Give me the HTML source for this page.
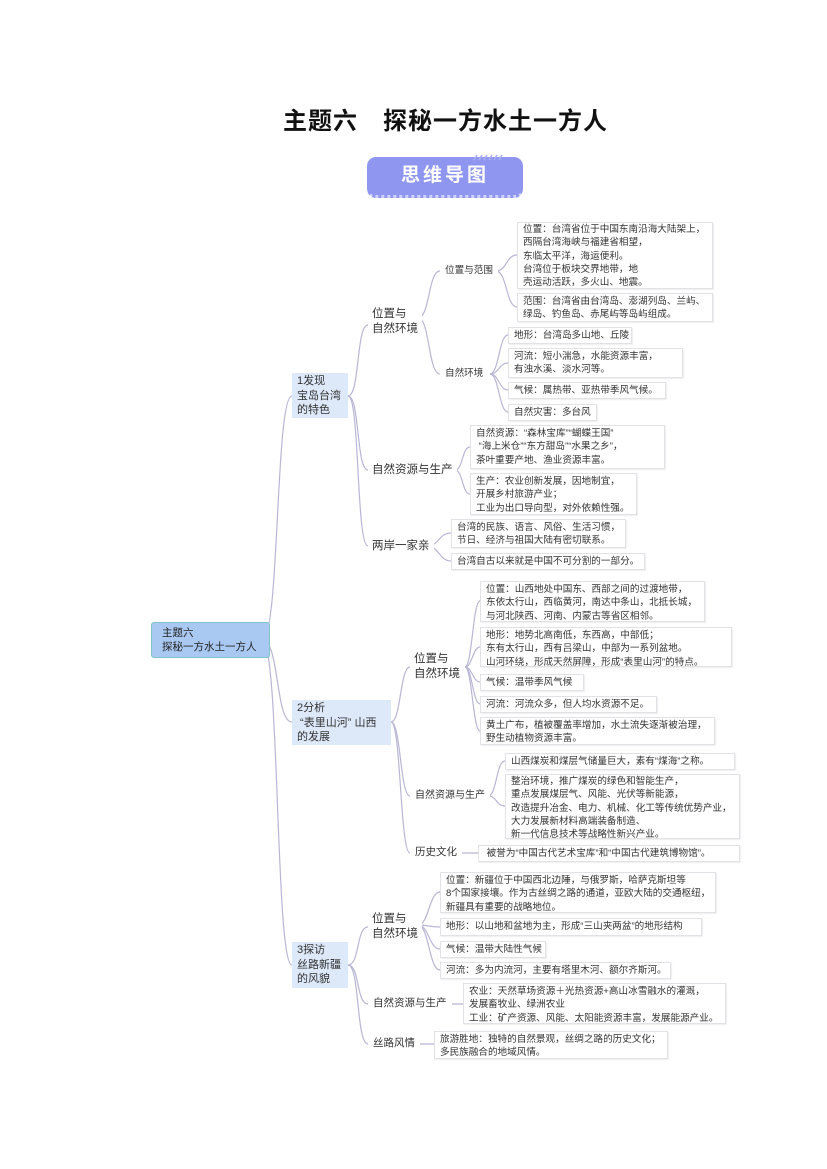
<!DOCTYPE html>
<html><head><meta charset="utf-8">
<style>
body{margin:0;background:#fff;}
#p{position:relative;width:827px;height:1169px;overflow:hidden;font-family:"Liberation Sans","Noto Sans CJK SC",sans-serif;color:#333;}
.t{position:absolute;left:32px;width:827px;top:101px;text-align:center;font-size:24px;letter-spacing:1px;font-weight:bold;color:#111;font-family:"Liberation Sans","Noto Sans CJK SC",sans-serif;}
.n{position:absolute;box-sizing:border-box;font-size:9.6px;line-height:13.3px;padding:1px 5px;white-space:nowrap;background:#fff;}
.lf{border:1px solid #e2e2e6;box-shadow:1px 1px 1px #eee;}
.l2{font-size:11.5px;line-height:15px;padding:2px 4px;}
.l1{background:#dde8f8;font-size:11px;line-height:15px;padding:3px 6px;}
svg{position:absolute;left:0;top:0;}
</style></head><body><div id="p">
<div class="t">主题六　探秘一方水土一方人</div>
<div style="position:absolute;left:367px;top:157px;width:156px;height:41px;border-radius:9px;background:#8f96f0;border-bottom:3px dotted #d0d3fb;box-sizing:border-box;color:#fff;font-weight:bold;font-size:19px;line-height:38px;text-align:center;letter-spacing:3px;">思维导图</div>
<svg width="827" height="1169" stroke="#a7aef5" stroke-width="1.5"><path d="M474 160 l3 -5 M479 160 l3 -5 M484 160 l3 -5 M489 160 l3 -5 M494 160 l3 -5 M499 160 l3 -5"/></svg>

<svg width="827" height="1169" fill="none" stroke="#b8b6d4" stroke-width="1.2">
<path d="M262 640 C280 640 275 396 292 396"/>
<path d="M262 640 C280 640 275 722 292 722"/>
<path d="M262 640 C280 640 275 965 292 965"/>
<path d="M348 396 C360 396 356 325 368 325"/>
<path d="M348 396 C360 396 356 470 368 470"/>
<path d="M348 396 C360 396 356 546 368 546"/>
<path d="M418 318 C430 318 428 271 440 271"/>
<path d="M418 318 C430 318 428 374 440 374"/>
<path d="M496 271 C507 271 506 255 517 255"/>
<path d="M496 271 C507 271 506 307 517 307"/>
<path d="M490 374 C499 374 499 335 508 335"/>
<path d="M490 374 C499 374 499 363 508 363"/>
<path d="M490 374 C499 374 499 390 508 390"/>
<path d="M490 374 C499 374 499 412 508 412"/>
<path d="M455 470 C463 470 462 447 470 447"/>
<path d="M455 470 C463 470 462 494 470 494"/>
<path d="M427 546 C439 546 439 533 451 533"/>
<path d="M427 546 C439 546 439 561 451 561"/>
<path d="M391 722 C401 722 400 667 410 667"/>
<path d="M391 722 C401 722 400 796 410 796"/>
<path d="M391 722 C401 722 400 853 410 853"/>
<path d="M465 667 C472 667 473 601 480 601"/>
<path d="M465 667 C472 667 473 647 480 647"/>
<path d="M465 667 C472 667 473 682 480 682"/>
<path d="M465 667 C472 667 473 704 480 704"/>
<path d="M465 667 C472 667 473 731 480 731"/>
<path d="M488 796 C497 796 496 761 505 761"/>
<path d="M488 796 C497 796 496 806 505 806"/>
<path d="M457 853 L478 853"/>
<path d="M348 965 C360 965 356 927 368 927"/>
<path d="M348 965 C360 965 356 1004 368 1004"/>
<path d="M348 965 C360 965 356 1044 368 1044"/>
<path d="M418 925 C429 925 429 892 440 892"/>
<path d="M418 925 C429 925 429 927 440 927"/>
<path d="M418 925 C429 925 429 949 440 949"/>
<path d="M418 925 C429 925 429 970 440 970"/>
<path d="M443 1004 L463 1004"/>
<path d="M417 1044 L434 1044"/>
</svg>

<div class="n" style="left:151px;top:622px;width:119px;height:36px;background:#a9c8f2;border:1.5px solid #7fc4c8;border-radius:3px;font-size:10.5px;line-height:14px;padding:3px 10px;color:#222;">主题六<br>探秘一方水土一方人</div>

<div class="n l1" style="left:292px;top:373px;width:56px;height:45px;padding:1px 5px;line-height:14.5px;">1发现<br>宝岛台湾<br>的特色</div>
<div class="n l1" style="left:292px;top:700px;width:99px;height:45px;padding:1px 5px;line-height:14.5px;">2分析<br>&nbsp;“表里山河” 山西<br>的发展</div>
<div class="n l1" style="left:292px;top:942px;width:56px;height:46px;padding:1px 5px;line-height:14.5px;">3探访<br>丝路新疆<br>的风貌</div>

<div class="n l2" style="left:368px;top:305px;">位置与<br>自然环境</div>
<div class="n l2" style="left:368px;top:462px;padding:1px 4px;">自然资源与生产</div>
<div class="n l2" style="left:368px;top:538px;padding:1px 4px;">两岸一家亲</div>
<div class="n l2" style="left:410px;top:650px;">位置与<br>自然环境</div>
<div class="n" style="left:410px;top:788px;font-size:10px;">自然资源与生产</div>
<div class="n" style="left:410px;top:845px;font-size:10.5px;">历史文化</div>
<div class="n l2" style="left:368px;top:910px;">位置与<br>自然环境</div>
<div class="n" style="left:368px;top:996px;font-size:10.5px;">自然资源与生产</div>
<div class="n" style="left:368px;top:1036px;font-size:10.5px;">丝路风情</div>
<div class="n" style="left:440px;top:263px;">位置与范围</div>
<div class="n" style="left:440px;top:366px;">自然环境</div>

<div class="n lf" style="left:517px;top:222px;width:196px;height:67px;padding-top:0;">位置：台湾省位于中国东南沿海大陆架上，<br>西隔台湾海峡与福建省相望，<br>东临太平洋，海运便利。<br>台湾位于板块交界地带，地<br>壳运动活跃，多火山、地震。</div>
<div class="n lf" style="left:517px;top:293px;width:196px;height:29px;">范围：台湾省由台湾岛、澎湖列岛、兰屿、<br>绿岛、钓鱼岛、赤尾屿等岛屿组成。</div>
<div class="n lf" style="left:508px;top:327px;width:124px;height:17px;">地形：台湾岛多山地、丘陵</div>
<div class="n lf" style="left:508px;top:348px;width:175px;height:30px;">河流：短小湍急，水能资源丰富，<br>有浊水溪、淡水河等。</div>
<div class="n lf" style="left:508px;top:382px;width:158px;height:17px;">气候：属热带、亚热带季风气候。</div>
<div class="n lf" style="left:508px;top:404px;height:17px;">自然灾害：多台风</div>
<div class="n lf" style="left:470px;top:425px;width:195px;height:44px;">自然资源：“森林宝库”“蝴蝶王国”<br>&nbsp;“海上米仓”“东方甜岛”“水果之乡”，<br>茶叶重要产地、渔业资源丰富。</div>
<div class="n lf" style="left:470px;top:473px;width:167px;height:42px;">生产：农业创新发展，因地制宜，<br>开展乡村旅游产业；<br>工业为出口导向型，对外依赖性强。</div>
<div class="n lf" style="left:451px;top:519px;width:175px;height:29px;">台湾的民族、语言、风俗、生活习惯，<br>节日、经济与祖国大陆有密切联系。</div>
<div class="n lf" style="left:451px;top:553px;width:194px;height:17px;">台湾自古以来就是中国不可分割的一部分。</div>

<div class="n lf" style="left:480px;top:581px;width:225px;height:41px;">位置：山西地处中国东、西部之间的过渡地带，<br>东依太行山，西临黄河，南达中条山，北抵长城，<br>与河北陕西、河南、内蒙古等省区相邻。</div>
<div class="n lf" style="left:480px;top:627px;width:252px;height:40px;">地形：地势北高南低，东西高，中部低；<br>东有太行山，西有吕梁山，中部为一系列盆地。<br>山河环绕，形成天然屏障，形成“表里山河”的特点。</div>
<div class="n lf" style="left:480px;top:674px;width:104px;height:17px;">气候：温带季风气候</div>
<div class="n lf" style="left:480px;top:696px;width:177px;height:17px;">河流：河流众多，但人均水资源不足。</div>
<div class="n lf" style="left:480px;top:717px;width:235px;height:28px;">黄土广布，植被覆盖率增加，水土流失逐渐被治理，<br>野生动植物资源丰富。</div>
<div class="n lf" style="left:505px;top:753px;width:230px;height:17px;">山西煤炭和煤层气储量巨大，素有“煤海”之称。</div>
<div class="n lf" style="left:505px;top:774px;width:235px;height:65px;padding-top:0;">整治环境，推广煤炭的绿色和智能生产，<br>重点发展煤层气、风能、光伏等新能源，<br>改造提升冶金、电力、机械、化工等传统优势产业，<br>大力发展新材料高端装备制造、<br>新一代信息技术等战略性新兴产业。</div>
<div class="n lf" style="left:478px;top:845px;width:262px;height:17px;">&nbsp;被誉为“中国古代艺术宝库”和“中国古代建筑博物馆”。</div>

<div class="n lf" style="left:440px;top:872px;width:276px;height:41px;">位置：新疆位于中国西北边陲，与俄罗斯，哈萨克斯坦等<br>8个国家接壤。作为古丝绸之路的通道，亚欧大陆的交通枢纽，<br>新疆具有重要的战略地位。</div>
<div class="n lf" style="left:440px;top:918px;width:262px;height:18px;">地形：以山地和盆地为主，形成“三山夹两盆”的地形结构</div>
<div class="n lf" style="left:440px;top:941px;width:106px;height:17px;">气候：温带大陆性气候</div>
<div class="n lf" style="left:440px;top:962px;width:231px;height:17px;">河流：多为内流河，主要有塔里木河、额尔齐斯河。</div>
<div class="n lf" style="left:463px;top:983px;width:263px;height:41px;">农业：天然草场资源＋光热资源+高山冰雪融水的灌溉，<br>发展畜牧业、绿洲农业<br>工业：矿产资源、风能、太阳能资源丰富，发展能源产业。</div>
<div class="n lf" style="left:434px;top:1031px;width:234px;height:28px;">旅游胜地：独特的自然景观，丝绸之路的历史文化；<br>多民族融合的地域风情。</div>
</div></body></html>
